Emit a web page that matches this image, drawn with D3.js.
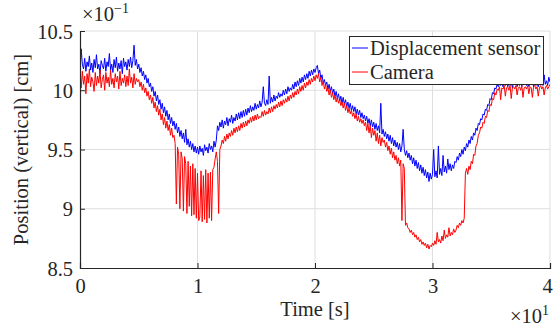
<!DOCTYPE html>
<html><head><meta charset="utf-8">
<script src="https://cdn.jsdelivr.net/npm/d3@7"></script>
<style>body{margin:0;background:#fff}svg{display:block}text{font-family:"Liberation Serif","DejaVu Serif",serif;fill:#262626}</style>
</head><body><svg id="c" width="554" height="327"></svg>
<script>
// time step 0.01 (x10^1 s) from 0 to 4
const tStart = 0, tStep = 0.01;
const xTicks = [0, 1, 2, 3, 4];
const yTicks = [8.5, 9, 9.5, 10, 10.5];
const yTickLabels = ["8.5", "9", "9.5", "10", "10.5"];
const seriesNames = ["Displacement sensor", "Camera"];
const sensor = [
10.15,10.35,10.22,10.18,10.27,10.16,10.24,10.20,10.29,10.17,10.23,10.15,10.26,10.19,10.30,10.18,10.22,10.14,10.25,10.21,
10.18,10.27,10.16,10.24,10.20,10.31,10.17,10.22,10.15,10.26,10.19,10.28,10.16,10.23,10.18,10.25,10.14,10.27,10.20,10.24,
10.17,10.26,10.20,10.28,10.19,10.25,10.38,10.21,10.26,10.18,10.22,10.15,10.19,10.12,10.16,10.09,10.13,10.06,10.10,10.03,
10.06,9.99,10.03,9.95,9.99,9.91,9.96,9.88,9.92,9.84,9.89,9.81,9.86,9.78,9.83,9.75,9.80,9.72,9.77,9.70,
9.74,9.67,9.72,9.64,9.69,9.61,9.66,9.59,9.64,9.56,9.67,9.54,9.59,9.52,9.57,9.50,9.55,9.48,9.53,9.47,
9.52,9.46,9.53,9.48,9.51,9.45,9.54,9.49,9.52,9.47,9.55,9.50,9.53,9.48,9.57,9.52,9.58,9.70,9.66,9.73,
9.69,9.75,9.68,9.74,9.71,9.77,9.70,9.76,9.73,9.79,9.72,9.77,9.74,9.80,9.75,9.81,9.76,9.82,9.77,9.83,
9.78,9.84,9.79,9.85,9.81,9.87,9.82,9.86,9.83,9.89,9.84,9.88,9.85,9.91,9.86,9.90,10.03,9.89,9.87,9.92,
9.88,10.12,9.89,9.94,9.90,9.96,9.91,9.95,9.93,9.98,9.94,9.97,9.95,10.00,9.96,10.01,9.97,10.03,9.99,10.02,
10.00,10.05,10.01,10.07,10.03,10.08,10.04,10.10,10.06,10.11,10.07,10.13,10.09,10.14,10.10,10.16,10.12,10.17,10.13,10.18,
10.15,10.19,10.21,10.14,10.17,10.10,10.13,10.06,10.09,10.04,10.07,10.01,10.05,9.99,10.03,9.97,10.01,9.95,9.99,9.93,
9.97,9.91,9.95,9.89,9.94,9.88,9.92,9.86,9.90,9.85,9.89,9.83,9.87,9.82,9.86,9.80,9.84,9.79,9.83,9.77,
9.81,9.76,9.79,9.74,9.78,9.72,9.76,9.70,9.75,9.69,9.73,9.67,9.72,9.66,9.70,9.64,9.89,9.63,9.67,9.61,
9.65,9.59,9.63,9.57,9.62,9.55,9.60,9.53,9.58,9.52,9.56,9.50,9.55,9.48,9.53,9.67,9.50,9.45,9.49,9.43,
9.47,9.41,9.45,9.38,9.43,9.36,9.41,9.34,9.39,9.32,9.37,9.30,9.35,9.28,9.33,9.26,9.31,9.23,9.30,9.25,
9.29,9.50,9.27,9.32,9.26,9.53,9.29,9.34,9.28,9.45,9.31,9.36,9.30,9.42,9.33,9.38,9.32,9.37,9.34,9.40,
9.39,9.44,9.41,9.47,9.44,9.50,9.46,9.52,9.49,9.55,9.52,9.58,9.55,9.61,9.58,9.64,9.62,9.68,9.66,9.72,
9.71,9.76,9.75,9.80,9.79,9.84,9.83,9.88,9.87,9.93,9.92,9.98,9.97,10.02,10.01,10.05,10.03,10.06,10.04,10.07,
10.03,10.07,10.04,10.08,10.03,10.06,10.04,10.08,10.02,10.07,10.05,10.08,10.03,10.06,10.04,10.07,10.03,10.08,10.05,10.06,
10.04,10.07,10.03,10.06,10.05,10.08,10.03,10.07,10.04,10.06,10.03,10.08,10.05,10.07,10.04,10.13,10.05,10.08,10.04,10.11,
10.07];
const camera = [
10.10,10.02,10.16,10.05,10.12,9.97,10.14,10.06,10.18,10.03,10.11,10.07,9.99,10.15,10.04,10.12,10.06,10.17,10.02,10.09,
10.13,10.00,10.15,10.06,10.11,10.03,10.17,10.05,10.10,10.02,10.14,10.07,10.12,10.01,10.16,10.04,10.10,10.06,10.13,10.03,
10.12,10.04,10.18,10.06,10.11,10.02,10.14,10.05,10.10,10.07,10.09,10.03,10.07,10.00,10.05,9.98,10.02,9.95,9.99,9.92,
9.96,9.89,9.94,9.85,9.90,9.82,9.87,9.79,9.84,9.75,9.80,9.71,9.77,9.68,9.74,9.66,9.71,9.62,9.68,9.60,
9.62,9.55,9.04,9.52,9.46,9.00,9.48,9.42,8.98,9.44,9.38,8.96,9.40,9.02,9.36,8.94,9.38,8.95,9.34,8.92,
9.30,8.90,8.93,9.32,8.89,9.28,8.91,9.33,8.88,9.30,8.92,9.31,8.90,9.33,9.35,9.42,9.48,9.40,8.96,9.50,
9.53,9.58,9.55,9.61,9.57,9.63,9.59,9.64,9.61,9.66,9.62,9.68,9.64,9.69,9.65,9.70,9.66,9.72,9.68,9.73,
9.69,9.74,9.70,9.75,9.72,9.77,9.73,9.78,9.74,9.79,9.75,9.80,9.76,9.78,9.77,9.82,9.78,9.83,9.79,9.82,
9.80,9.85,9.81,9.86,9.82,9.87,9.84,9.88,9.85,9.90,9.86,9.91,9.87,9.92,9.89,9.93,9.90,9.95,9.91,9.96,
9.93,9.98,9.94,9.99,9.96,10.01,9.97,10.03,9.99,10.04,10.00,10.06,10.02,10.07,10.04,10.09,10.05,10.10,10.07,10.12,
10.08,10.13,10.10,10.14,10.07,10.11,10.04,10.08,10.01,10.05,9.99,10.02,9.96,10.00,9.94,9.98,9.92,9.96,9.90,9.94,
9.89,9.92,9.87,9.90,9.85,9.89,9.83,9.87,9.81,9.85,9.80,9.83,9.78,9.81,9.76,9.80,9.74,9.78,9.73,9.76,
9.72,9.75,9.70,9.73,9.66,9.72,9.64,9.70,9.60,9.68,9.62,9.66,9.57,9.64,9.55,9.62,9.53,9.60,9.56,9.58,
9.52,9.56,9.49,9.53,9.46,9.51,9.43,9.48,9.41,9.45,9.38,9.43,9.36,9.41,8.90,9.38,9.34,8.86,8.88,8.84,
8.83,8.80,8.82,8.78,8.80,8.76,8.78,8.74,8.76,8.72,8.74,8.70,8.72,8.69,8.71,8.67,8.70,8.66,8.69,8.68,
8.71,8.69,8.73,8.70,8.80,8.72,8.74,8.71,8.77,8.73,8.82,8.75,8.78,8.76,8.84,8.77,8.80,8.78,8.83,8.80,
8.82,8.86,8.84,8.88,8.86,8.90,8.88,8.92,9.30,9.34,9.29,9.36,9.33,9.40,9.38,9.46,9.45,9.53,9.55,9.62,
9.64,9.69,9.68,9.73,9.72,9.78,9.77,9.83,9.82,9.88,9.87,9.93,9.92,9.98,9.96,10.01,10.00,10.03,9.92,10.02,
10.01,10.04,9.95,10.02,10.03,10.00,10.04,9.93,10.02,10.03,10.01,10.04,9.96,10.02,10.03,10.00,10.04,9.94,10.02,10.03,
10.01,10.04,9.97,10.03,10.02,9.94,10.03,10.04,10.01,10.03,9.95,10.02,10.04,10.01,10.03,9.96,10.02,10.04,10.01,10.03,
10.05];

const svg = d3.select("#c");
const L = 80, R = 550, T = 31, B = 268;
const FS = 20.5;
const x = d3.scaleLinear().domain([0, 4]).range([L, R]);
const y = d3.scaleLinear().domain([8.5, 10.5]).range([B, T]);
const grid = "#dedede", axc = "#262626";

// grid
svg.append("g").selectAll("line").data(xTicks.slice(1)).join("line")
  .attr("x1", d => x(d)).attr("x2", d => x(d)).attr("y1", T).attr("y2", B)
  .attr("stroke", grid).attr("stroke-width", 1);
svg.append("g").selectAll("line").data(yTicks.slice(1)).join("line")
  .attr("x1", L).attr("x2", R).attr("y1", d => y(d)).attr("y2", d => y(d))
  .attr("stroke", grid).attr("stroke-width", 1);

// data
const line = d3.line().x((d, i) => x(tStart + i * tStep)).y(d => y(d));
svg.append("clipPath").attr("id", "clp").append("rect")
  .attr("x", L).attr("y", T).attr("width", R - L).attr("height", B - T);
svg.append("path").datum(sensor).attr("d", line).attr("fill", "none")
  .attr("stroke", "#0000ff").attr("stroke-width", 1).attr("clip-path", "url(#clp)");
svg.append("path").datum(camera).attr("d", line).attr("fill", "none")
  .attr("stroke", "#ff0000").attr("stroke-width", 1).attr("clip-path", "url(#clp)");

// axes
const xa = svg.append("g").attr("transform", `translate(0,${B})`)
  .call(d3.axisBottom(x).tickValues(xTicks).tickSize(-5).tickPadding(10).tickFormat(d3.format("d")));
const ya = svg.append("g").attr("transform", `translate(${L},0)`)
  .call(d3.axisLeft(y).tickValues(yTicks).tickSize(-5).tickPadding(7).tickFormat((d, i) => yTickLabels[i]));
[xa, ya].forEach(g => {
  g.select(".domain").attr("stroke", axc).attr("stroke-width", 1.2);
  g.selectAll(".tick line").attr("stroke", axc);
  g.selectAll("text").attr("font-size", FS).attr("fill", axc)
   .style("font-family", '"Liberation Serif","DejaVu Serif",serif');
});
xa.selectAll("text").attr("dy", "0.72em").attr("dx", d => d === 4 ? -3 : 0);
ya.selectAll("text").attr("dy", "0.35em");

// labels
svg.append("text").attr("x", (L + R) / 2).attr("y", 316).attr("text-anchor", "middle")
  .attr("font-size", FS).text("Time [s]");
svg.append("text").attr("transform", `translate(28,${(T + B) / 2}) rotate(-90)`)
  .attr("text-anchor", "middle").attr("font-size", FS).text("Position (vertical) [cm]");
const ex = svg.append("text").attr("x", 549).attr("y", 323).attr("text-anchor", "end").attr("font-size", FS);
ex.append("tspan").text("×10");
ex.append("tspan").attr("dy", -8).attr("font-size", 14).text("1");
const ey = svg.append("text").attr("x", 82).attr("y", 21).attr("font-size", FS);
ey.append("tspan").text("×10");
ey.append("tspan").attr("dy", -8).attr("font-size", 14).text("−1");

// legend
const lg = svg.append("g");
lg.append("rect").attr("x", 349.5).attr("y", 36.5).attr("width", 194).attr("height", 48)
  .attr("fill", "#fff").attr("stroke", axc).attr("stroke-width", 1);
const colors = ["#0000ff", "#ff0000"];
seriesNames.forEach((n, i) => {
  const cy = 48 + i * 24;
  lg.append("line").attr("x1", 352).attr("x2", 368).attr("y1", cy).attr("y2", cy)
    .attr("stroke", colors[i]).attr("stroke-width", 1);
  lg.append("text").attr("x", 370).attr("y", cy).attr("dy", "0.35em").attr("font-size", FS).text(n);
});
</script></body></html>
